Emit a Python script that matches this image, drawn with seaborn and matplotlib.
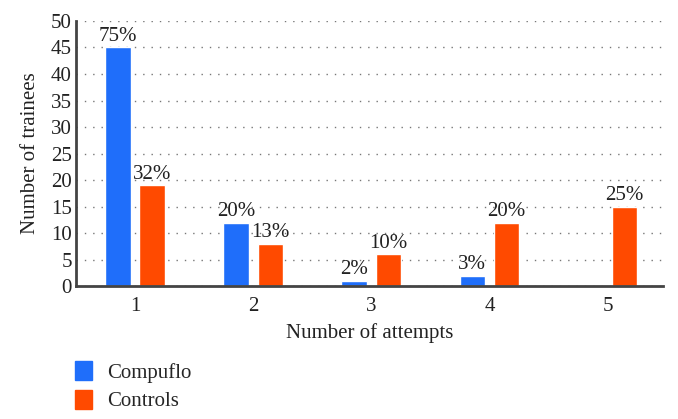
import pandas as pd
import matplotlib
matplotlib.use('Agg')
import matplotlib.pyplot as plt
import seaborn as sns
from matplotlib.patches import Patch

# Dados
tentativas = ['1', '2', '3', '4', '5']
compuflo = [45, 12, 1, 2, 0]
controles = [19, 8, 6, 12, 15]
rot_compuflo = ['75%', '20%', '2%', '3%', '']
rot_controles = ['32%', '13%', '10%', '20%', '25%']

cor_azul = '#1F6EFA'
cor_laranja = '#FF4A00'

df = pd.DataFrame({
    'Tentativa': tentativas * 2,
    'Quantidade': compuflo + controles,
    'Grupo': ['Compuflo'] * 5 + ['Controls'] * 5,
})

sns.set_theme(style='white')
plt.rcParams['font.family'] = ['Liberation Serif', 'DejaVu Serif']
tam = 15

fig = plt.figure(figsize=(6.78, 4.19), dpi=100)
ax = fig.add_axes([0.112, 0.317, 0.866, 0.633])

sns.barplot(x='Tentativa', y='Quantidade', hue='Grupo', data=df, ax=ax,
            palette=[cor_azul, cor_laranja], width=0.58, gap=0.26,
            saturation=1, legend=False)

# Rótulos de porcentagem em cima das barras
for cont, rotulos in zip(ax.containers, [rot_compuflo, rot_controles]):
    ax.bar_label(cont, labels=rotulos, padding=1, fontsize=tam, color='#222222')

ax.set_ylim(0, 50)
ax.set_yticks(range(0, 51, 5))
ax.set_xlim(-0.5, 4.47)
ax.yaxis.grid(True, linestyle=(0, (1, 5)), color='#777777', linewidth=1)
ax.set_axisbelow(True)

for lado in ['top', 'right']:
    ax.spines[lado].set_visible(False)
for lado in ['left', 'bottom']:
    ax.spines[lado].set_color('#444444')
    ax.spines[lado].set_linewidth(2)

ax.tick_params(axis='both', length=0, labelsize=tam, colors='#222222')
ax.tick_params(axis='y', pad=3)
ax.tick_params(axis='x', pad=8)
ax.set_ylabel('Number of trainees', fontsize=tam, color='#222222', labelpad=8)
ax.set_xlabel('Number of attempts', fontsize=tam, color='#222222', labelpad=5)

# Legenda abaixo do gráfico
alcas = [Patch(color=cor_azul, label='Compuflo'), Patch(color=cor_laranja, label='Controls')]
fig.legend(handles=alcas, loc='upper left', bbox_to_anchor=(0.099, 0.158),
           frameon=False, fontsize=tam, handlelength=0.8, handleheight=1.0,
           handletextpad=0.7, labelspacing=0.35, borderaxespad=0)

fig.savefig('out.png', dpi=100)
